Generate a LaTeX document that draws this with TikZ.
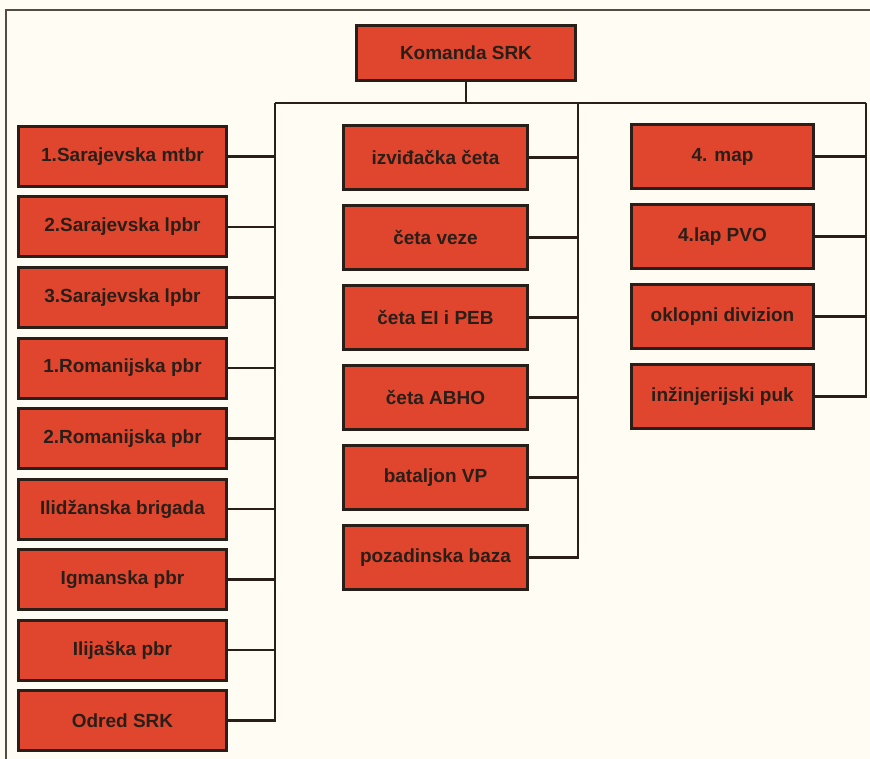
\documentclass[tikz,border=0pt]{standalone}
\usepackage{fontspec}
\setsansfont{Liberation Sans}
\usepackage{tikz}
\usetikzlibrary{positioning}
\definecolor{srkred}{RGB}{224,70,46}
\definecolor{srkline}{RGB}{42,30,24}
\definecolor{paper}{RGB}{254,252,243}

\tikzset{
  unit/.style={draw=srkline, fill=srkred, line width=3pt, text=srkline,
    font=\sffamily\bfseries\fontsize{19}{21}\selectfont,
    inner sep=0pt, outer sep=0pt, minimum height=64pt},
  lunit/.style={unit, minimum width=208pt, minimum height=60pt},
  munit/.style={unit, minimum width=184pt},
  runit/.style={unit, minimum width=182pt},
  link/.style={draw=srkline, line width=2.5pt},
  frame/.style={draw=srkline!80, line width=2pt}
}

\begin{document}
\begin{tikzpicture}[x=1pt, y=1pt]
    \fill[paper] (0,0) rectangle (870,-759);
    \useasboundingbox (0,0) rectangle (870,-759);
    \draw[frame] (870,-10) -- (6,-10) -- (6,-759);

    \node[unit, minimum width=219pt, minimum height=55pt] (K) at (466,-53) {Komanda SRK};

    \node[lunit] (L1) at (122.5,-156.5) {1.Sarajevska mtbr};
    \node[lunit, below=10.5pt of L1] (L2) {2.Sarajevska lpbr};
    \node[lunit, below=10.5pt of L2] (L3) {3.Sarajevska lpbr};
    \node[lunit, below=10.5pt of L3] (L4) {1.Romanijska pbr};
    \node[lunit, below=10.5pt of L4] (L5) {2.Romanijska pbr};
    \node[lunit, below=10.5pt of L5] (L6) {Ilidžanska brigada};
    \node[lunit, below=10.5pt of L6] (L7) {Igmanska pbr};
    \node[lunit, below=10.5pt of L7] (L8) {Ilijaška pbr};
    \node[lunit, below=10.5pt of L8] (L9) {Odred SRK};

    \node[munit] (M1) at (435.5,-157.5) {izviđačka četa};
    \node[munit, below=16pt of M1] (M2) {četa veze};
    \node[munit, below=16pt of M2] (M3) {četa EI i PEB};
    \node[munit, below=16pt of M3] (M4) {četa ABHO};
    \node[munit, below=16pt of M4] (M5) {bataljon VP};
    \node[munit, below=16pt of M5] (M6) {pozadinska baza};

    \node[runit] (R1) at (722.5,-156.5) {4. map};
    \node[runit, below=16pt of R1] (R2) {4.lap PVO};
    \node[runit, below=16pt of R2] (R3) {oklopni divizion};
    \node[runit, below=16pt of R3] (R4) {inžinjerijski puk};

    \coordinate (busL) at (275,-103);
    \coordinate (busM) at (578,-103);
    \coordinate (busR) at (866,-103);

    \draw[link] (K.south) -- (K.south |- busM);
    \draw[link] (busL) -- (busR);
    \draw[link] (busL) |- (L9.east);
    \draw[link] (busM) |- (M6.east);
    \draw[link] (busR) |- (R4.east);
    \foreach \n in {L1,L2,L3,L4,L5,L6,L7,L8}
      \draw[link] (\n.east) -- (\n.east -| busL);
    \foreach \n in {M1,M2,M3,M4,M5}
      \draw[link] (\n.east) -- (\n.east -| busM);
    \foreach \n in {R1,R2,R3}
      \draw[link] (\n.east) -- (\n.east -| busR);
\end{tikzpicture}
\end{document}
